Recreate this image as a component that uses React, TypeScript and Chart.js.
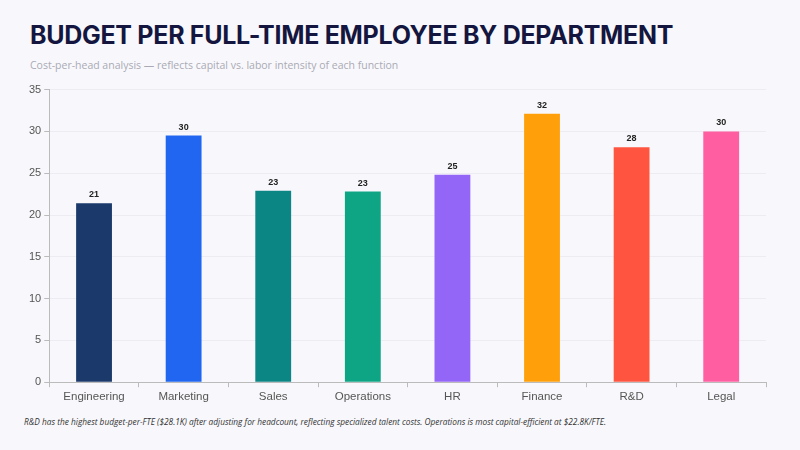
import React, { useEffect, useRef } from "react";
import { Chart, registerables } from "chart.js";
Chart.register(...registerables);

const categories = ["Engineering", "Marketing", "Sales", "Operations", "HR", "Finance", "R&D", "Legal"];
const values = [21.4, 29.5, 22.9, 22.8, 24.8, 32.1, 28.1, 30.0];
const colors = ["#1b3a6b", "#2166f0", "#0c8585", "#0ea585", "#9466f7", "#ff9f0a", "#ff5540", "#ff5fa0"];

const labelPlugin = {
  id: "vlabels",
  afterDatasetsDraw(chart: any) {
    const ctx = chart.ctx;
    const meta = chart.getDatasetMeta(0);
    ctx.save();
    ctx.font = "bold 9px Arial, 'Liberation Sans'";
    ctx.fillStyle = "#222";
    ctx.textAlign = "center";
    ctx.textBaseline = "bottom";
    meta.data.forEach((el: any, i: number) => {
      ctx.fillText(String(Math.round(values[i])), el.x, el.y - 4);
    });
    ctx.restore();
  },
};

export default function App() {
  const ref = useRef<HTMLCanvasElement>(null);
  useEffect(() => {
    const c = new Chart(ref.current!, {
      type: "bar",
      data: { labels: categories, datasets: [{ data: values, backgroundColor: colors, barPercentage: 0.4, categoryPercentage: 1 }] },
      options: {
        animation: false,
        responsive: false,
        layout: { padding: { left: 26, right: 34, top: 4 } },
        plugins: { legend: { display: false }, tooltip: { enabled: false } },
        scales: {
          y: {
            min: 0, max: 35,
            ticks: { stepSize: 5, color: "#555", font: { size: 11, family: "Arial, 'Liberation Sans'" } },
            grid: { color: "#ececf2", tickLength: 5, tickColor: "#bbb" },
            border: { color: "#bbb" },
          },
          x: {
            ticks: { color: "#555", font: { size: 11.5, family: "Arial, 'Liberation Sans'" } },
            grid: { display: true, drawOnChartArea: false, offset: true, tickLength: 5, tickColor: "#bbb" },
            border: { color: "#bbb" },
          },
        },
      },
      plugins: [labelPlugin],
    });
    return () => c.destroy();
  }, []);
  return (
    <div style={{ position: "fixed", inset: 0, background: "#f8f8fc", fontFamily: "Inter, 'Noto Sans', sans-serif" }}>
      <div style={{ position: "absolute", left: 30, top: 20, fontSize: 25, fontWeight: 700, color: "#14163f", letterSpacing: -0.3 }}>
        BUDGET PER FULL-TIME EMPLOYEE BY DEPARTMENT
      </div>
      <div style={{ position: "absolute", left: 30, top: 58, fontSize: 10.5, color: "#aaaab4", fontFamily: "'Open Sans', sans-serif" }}>
        Cost-per-head analysis — reflects capital vs. labor intensity of each function
      </div>
      <canvas ref={ref} width={800} height={327} style={{ position: "absolute", left: 0, top: 80 }} />
      <div style={{ position: "absolute", left: 24, top: 416, fontSize: 8.3, fontStyle: "italic", color: "#333", fontFamily: "'Open Sans', sans-serif" }}>
        R&amp;D has the highest budget-per-FTE ($28.1K) after adjusting for headcount, reflecting specialized talent costs. Operations is most capital-efficient at $22.8K/FTE.
      </div>
    </div>
  );
}
